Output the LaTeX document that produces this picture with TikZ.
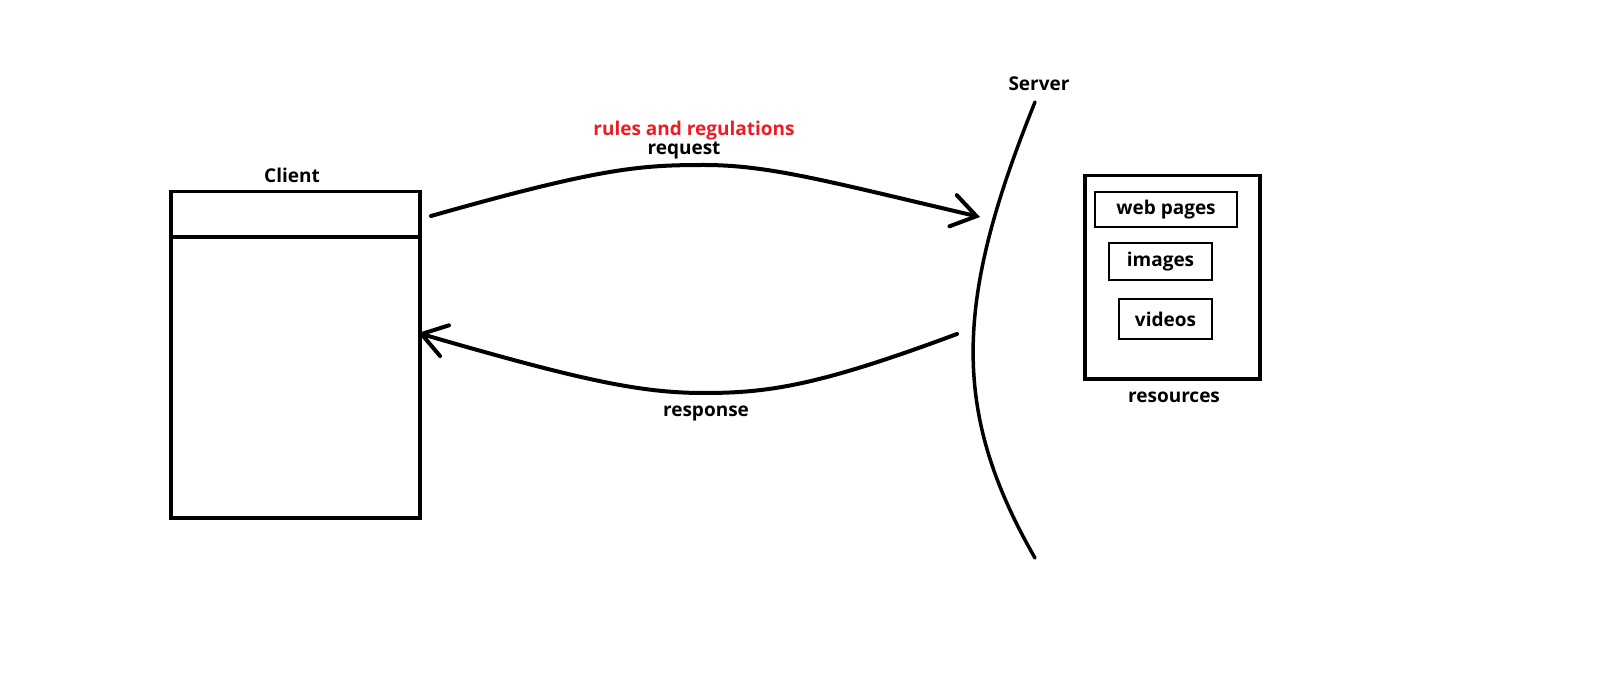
\documentclass[tikz,border=0pt]{standalone}
\usepackage{fontspec}
\setmainfont{Open Sans}
\usetikzlibrary{arrows.meta}
\definecolor{paintred}{RGB}{237,28,36}
\begin{document}
\begin{tikzpicture}[x=1pt,y=-1pt,
  lbl/.style={font=\bfseries\fontsize{19}{21}\selectfont, inner sep=0pt},
  thick box/.style={draw, line width=3.5pt, inner sep=0pt},
  item/.style={draw, line width=2.5pt, inner sep=0pt, font=\bfseries\fontsize{19}{21}\selectfont},
  conn/.style={line width=4pt, line cap=round, -{Straight Barb[length=24pt,width=32pt,line cap=round]}}]
\useasboundingbox (0,0) rectangle (1600,684);
% client
\node[thick box, minimum width=249pt, minimum height=326pt, anchor=north west] (client) at (169,190) {};
\coordinate (divL) at (169,237);
\coordinate (divR) at (418,237);
\draw[line width=3.5pt] (divL) -- (divR);
\node[lbl] (clientlbl) at (292,175) {Client};
% server
\coordinate (stop) at (1035,102);
\coordinate (sbot) at (1035,558);
\draw[line width=3.5pt, line cap=round] (stop) .. controls (955,300) and (950,410) .. (sbot);
\node[lbl] (serverlbl) at (1039,84) {Server};
% resources
\node[thick box, minimum width=175pt, minimum height=203pt, anchor=north west] (res) at (1083,174) {};
\node[item, minimum width=142pt, minimum height=35pt] (web) at (1166,209.5) {web pages};
\node[item, minimum width=103pt, minimum height=37pt] (img) at (1160.5,261.5) {images};
\node[item, minimum width=93pt, minimum height=40pt] (vid) at (1165.5,319) {videos};
\node[lbl] (reslbl) at (1174,397) {resources};
% arrows
\coordinate (reqS) at (431,216);
\coordinate (reqP) at (704,165);
\coordinate (reqE) at (980,217);
\draw[conn] (reqS) .. controls (600,168) and (640,165) .. (reqP)
  .. controls (770,165) and (830,182) .. (reqE);
\coordinate (resS) at (957,334);
\coordinate (resP) at (704,393);
\coordinate (resE) at (418,333);
\draw[conn] (resS) .. controls (820,385) and (770,393) .. (resP)
  .. controls (640,393) and (580,380) .. (resE);
\node[lbl, text=paintred] (rules) at (694,131) {rules and regulations};
\node[lbl] (request) at (684,150) {request};
\node[lbl] (response) at (706,413) {response};
\end{tikzpicture}
\end{document}
